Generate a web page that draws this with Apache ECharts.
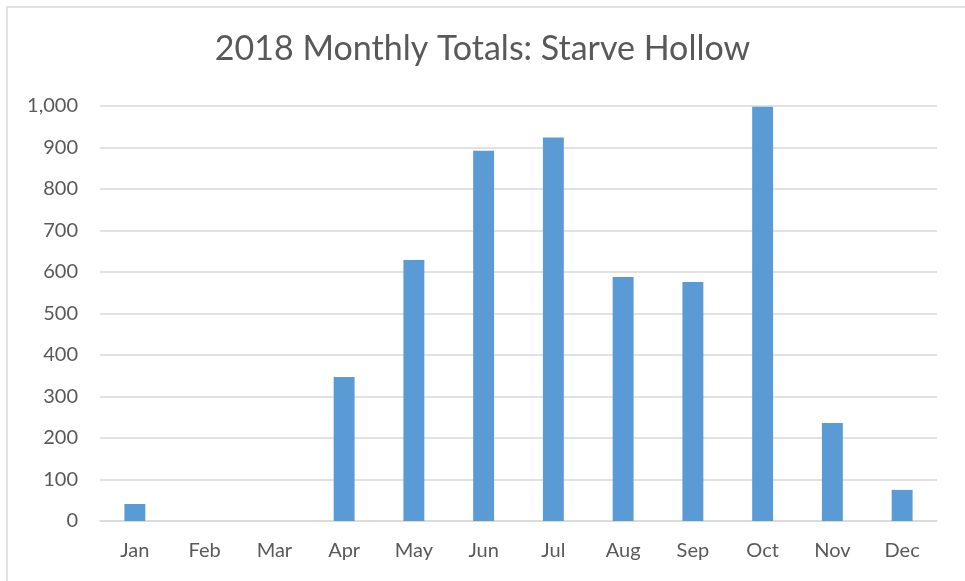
<!DOCTYPE html>
<html>
<head>
<meta charset="utf-8">
<script src="https://cdn.jsdelivr.net/npm/echarts@6/dist/echarts.min.js"></script>
<style>
  html, body { margin: 0; padding: 0; background: #fff; }
  #chart { width: 965px; height: 581px; }
</style>
</head>
<body>
<div id="chart"></div>
<script>
// Monthly totals for Starve Hollow, 2018
const months = ['Jan', 'Feb', 'Mar', 'Apr', 'May', 'Jun', 'Jul', 'Aug', 'Sep', 'Oct', 'Nov', 'Dec'];
const totals = [41, 0, 0, 347, 629, 892, 924, 588, 576, 998, 236, 75];
const chartTitle = '2018 Monthly Totals: Starve Hollow';

const FONT = 'Lato, "Noto Sans", sans-serif';
const chart = echarts.init(document.getElementById('chart'));

chart.setOption({
  animation: false,
  backgroundColor: '#ffffff',
  graphic: [{
    type: 'rect',
    shape: { x: 7, y: 7, width: 970, height: 590 },
    style: { fill: 'none', stroke: '#d9d9d9', lineWidth: 1.5 },
    silent: true
  }],
  title: {
    text: chartTitle,
    left: 'center',
    top: 27,
    textStyle: { fontFamily: FONT, fontSize: 34, fontWeight: 'normal', color: '#595959' }
  },
  grid: { left: 100, right: 28, top: 106, bottom: 60, containLabel: false },
  xAxis: {
    type: 'category',
    data: months,
    axisLine: { lineStyle: { color: '#d9d9d9', width: 1.5 } },
    axisTick: { show: false },
    axisLabel: { fontFamily: FONT, fontSize: 20, color: '#595959', margin: 20 }
  },
  yAxis: {
    type: 'value',
    min: 0,
    max: 1000,
    interval: 100,
    axisLine: { show: false },
    axisTick: { show: false },
    splitLine: { lineStyle: { color: '#d9d9d9', width: 1.5 } },
    axisLabel: {
      fontFamily: FONT, fontSize: 20, color: '#595959', margin: 22,
      formatter: v => v.toLocaleString('en-US')
    }
  },
  series: [{
    type: 'bar',
    data: totals,
    barWidth: '30%',
    itemStyle: { color: '#5b9bd5' }
  }]
});
</script>
</body>
</html>
